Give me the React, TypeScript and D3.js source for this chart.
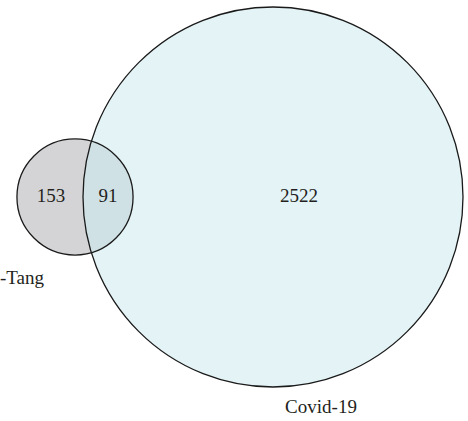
import React from "react";
import * as d3 from "d3";

const setNames = ["-Tang", "Covid-19"];
const onlyA = 153;
const both = 91;
const onlyB = 2522;

const W = 468;
const H = 421;

export default function App() {
  const totalA = onlyA + both;
  const totalB = onlyB + both;
  const rScale = d3.scaleSqrt().domain([0, totalB]).range([0, 190]);
  const rA = rScale(totalA);
  const rB = rScale(totalB);
  const cy = 197;
  const cxA = 75;
  const cxB = 273;
  const d = cxB - cxA;
  const a = (d * d + rA * rA - rB * rB) / (2 * d);
  const h = Math.sqrt(rA * rA - a * a);
  const ix = cxA + a;
  const p1 = [ix, cy - h];
  const p2 = [ix, cy + h];
  const lens = `M${p1[0]},${p1[1]} A${rA},${rA} 0 0 1 ${p2[0]},${p2[1]} A${rB},${rB} 0 0 1 ${p1[0]},${p1[1]} Z`;
  const font = "'Liberation Serif', 'DejaVu Serif', serif";
  const fs = 19;
  return (
    <svg width={W} height={H} style={{ position: "absolute", left: 0, top: 0 }} fontFamily={font}>
      <rect width={W} height={H} fill="#ffffff" />
      <circle cx={cxA} cy={cy} r={rA} fill="#d4d4d6" />
      <circle cx={cxB} cy={cy} r={rB} fill="#e4f3f6" />
      <path d={lens} fill="#d0e1e5" />
      <circle cx={cxA} cy={cy} r={rA} fill="none" stroke="#1a1a1a" strokeWidth={1.3} />
      <circle cx={cxB} cy={cy} r={rB} fill="none" stroke="#1a1a1a" strokeWidth={1.3} />
      <text x={51} y={202} textAnchor="middle" fontSize={fs} fill="#231f20">{onlyA}</text>
      <text x={108} y={202} textAnchor="middle" fontSize={fs} fill="#231f20">{both}</text>
      <text x={299} y={202} textAnchor="middle" fontSize={fs} fill="#231f20">{onlyB}</text>
      <text x={0} y={284} fontSize={fs} fill="#231f20">{setNames[0]}</text>
      <text x={321} y={413} textAnchor="middle" fontSize={fs} fill="#231f20">{setNames[1]}</text>
    </svg>
  );
}
